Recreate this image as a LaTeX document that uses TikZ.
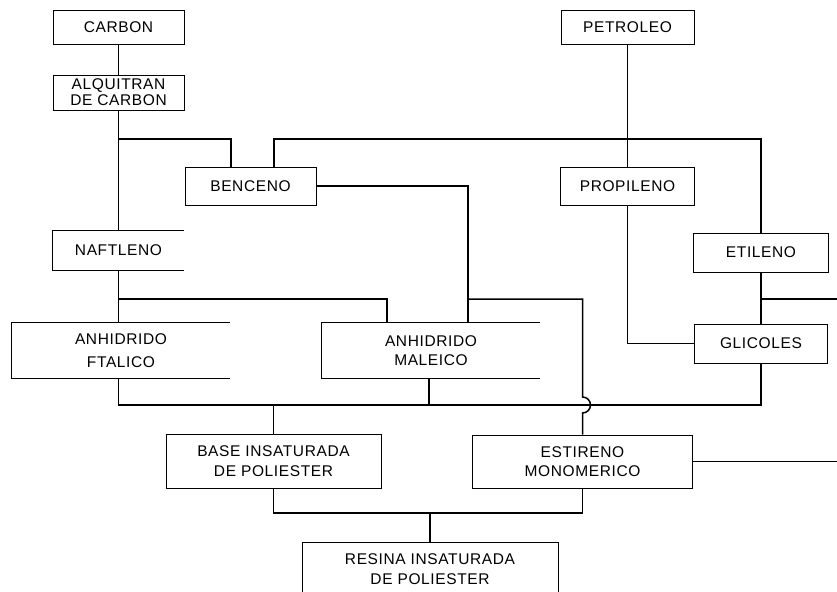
\documentclass[tikz,border=0pt]{standalone}
\usepackage{fontspec}
\setmainfont[LetterSpace=4]{Liberation Sans}
\usetikzlibrary{calc}

\begin{document}
\begin{tikzpicture}[x=1pt,y=-1pt,
  stagebox/.style={draw,line width=0.8pt,align=center,inner sep=0pt,font=\fontsize{15.5}{19.5}\selectfont},
  openstage/.style={stagebox,draw=none},
  flow/.style={line width=1.5pt}]
\useasboundingbox (0,0) rectangle (837,591);
\clip (0,0) rectangle (837,591);
\coordinate (busA) at (0,139);
\coordinate (busB) at (0,299);
\coordinate (busC) at (0,405);
\coordinate (busD) at (0,513);
\coordinate (edgeB) at (842,299);
\coordinate (edgeC) at (842,461.5);

% coal side
\node[stagebox,minimum width=131pt,minimum height=34pt] (carbon) at (118.5,27) {CARBON};
\node[stagebox,minimum width=131pt,minimum height=35pt,font=\fontsize{15.5}{16}\selectfont] (alquitran) at (118.5,92.5) {ALQUITRAN\\DE CARBON};
\node[stagebox,minimum width=131pt,minimum height=38pt] (benceno) at (250.5,186) {BENCENO};
\node[openstage,minimum width=131pt,minimum height=39pt] (naftleno) at (118.5,250.5) {NAFTLENO};
\node[openstage,minimum width=218pt,minimum height=55pt,font=\fontsize{15.5}{23}\selectfont] (ftalico) at (121,350.5) {ANHIDRIDO\\FTALICO};
\node[openstage,minimum width=218pt,minimum height=55pt] (maleico) at (431,350.5) {ANHIDRIDO\\MALEICO};
% oil side
\node[stagebox,minimum width=133pt,minimum height=34pt] (petroleo) at (627.5,27) {PETROLEO};
\node[stagebox,minimum width=134pt,minimum height=38pt] (propileno) at (627.5,186) {PROPILENO};
\node[stagebox,minimum width=135pt,minimum height=39pt] (etileno) at (761,252.5) {ETILENO};
\node[stagebox,minimum width=133pt,minimum height=39pt] (glicoles) at (761,343.5) {GLICOLES};
% products
\node[stagebox,minimum width=215pt,minimum height=54pt] (base) at (273.5,461) {BASE INSATURADA\\DE POLIESTER};
\node[stagebox,minimum width=220pt,minimum height=53pt] (estireno) at (582.5,461.5) {ESTIRENO\\MONOMERICO};
\node[stagebox,minimum width=256pt,minimum height=54pt] (resina) at (430,569) {RESINA INSATURADA\\DE POLIESTER};

\foreach \n in {naftleno,ftalico,maleico}
  \draw[line width=0.8pt] (\n.north east) -- (\n.north west) -- (\n.south west) -- (\n.south east);

\draw[flow] (carbon) -- (alquitran);
\draw[flow] (alquitran) -- (naftleno);
\draw[flow] (alquitran.south |- busA) -| ([xshift=-19.5pt]benceno.north);
\draw[flow] ([xshift=23.5pt]benceno.north) |- (etileno.north |- busA) -- (etileno);
\draw[flow] (petroleo) -- (propileno);
\draw[flow] (propileno.south) |- (glicoles.west);
\draw[flow] (etileno) -- (glicoles);
\draw[flow] (etileno.south |- busB) -- (edgeB);
\draw[flow] (naftleno.south) -- (naftleno.south |- ftalico.north);
\draw[flow] (naftleno.south |- busB) -| ([xshift=-44pt]maleico.north);
\draw[flow] (benceno.east) -| ([xshift=37pt]maleico.north);
\draw[flow] ([xshift=37pt]maleico.north |- busB) -| ($(estireno.north |- busC)+(0,-8)$)
  arc[start angle=-90,end angle=90,radius=8] -- (estireno.north);
\draw[flow] (naftleno.south |- ftalico.south) |- (glicoles.south |- busC) -- (glicoles.south);
\draw[flow] ([xshift=-2pt]maleico.south) -- ([xshift=-2pt]maleico.south |- busC);
\draw[flow] (base.north) -- (base.north |- busC);
\draw[flow] (base.south) |- (estireno.south |- busD) -- (estireno.south);
\draw[flow] (resina.north) -- (resina.north |- busD);
\draw[flow] (estireno.east) -- (edgeC);
\end{tikzpicture}
\end{document}
